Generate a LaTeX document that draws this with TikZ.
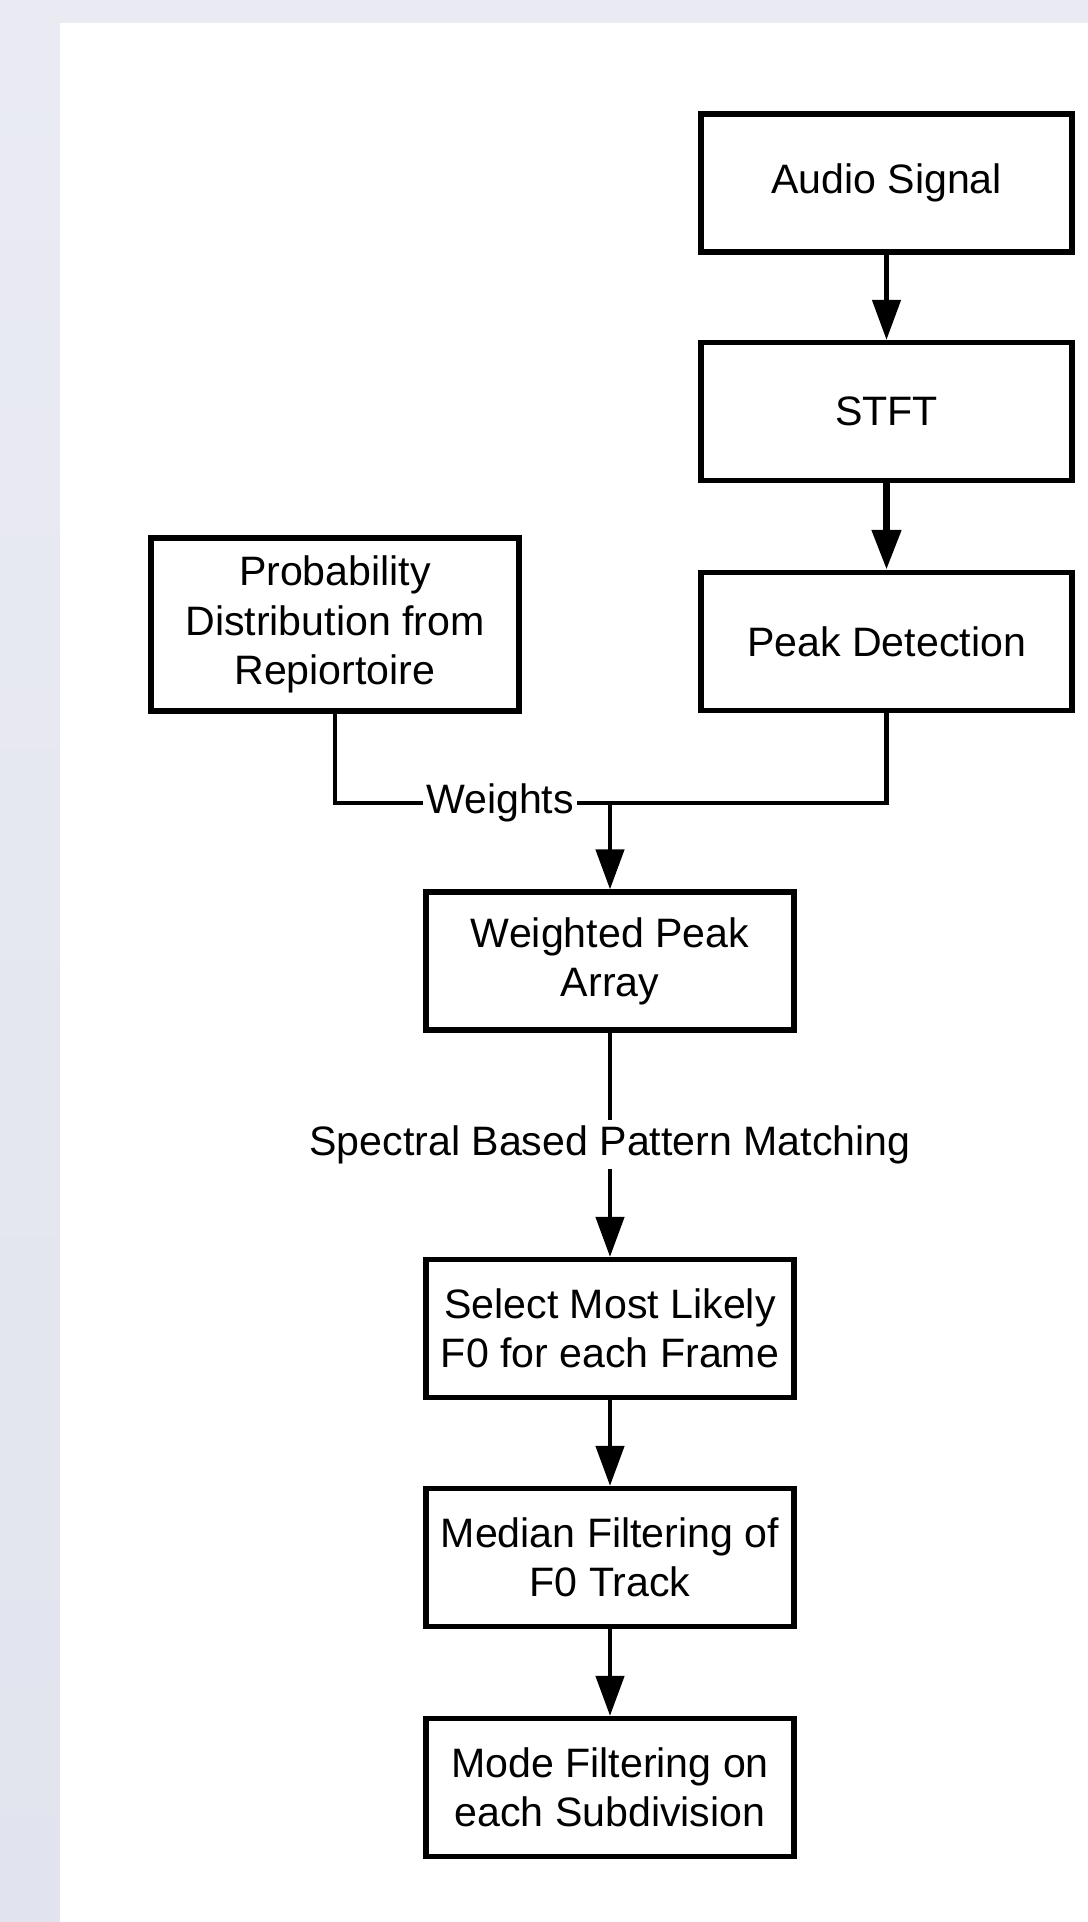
\documentclass[tikz,border=0pt]{standalone}
\usepackage{fontspec}
\setmainfont{Liberation Sans}
\usepackage{xcolor}
\usetikzlibrary{arrows.meta}

\definecolor{pagetop}{RGB}{234,235,242}
\definecolor{pagebottom}{RGB}{225,228,238}

\begin{document}
\begin{tikzpicture}[
    box/.style={draw=black, line width=1.5pt, fill=white, align=center, inner sep=2pt,
        minimum width=3.71cm, minimum height=1.38cm, font=\fontsize{11.7}{14}\selectfont},
    flow/.style={line width=1.3pt, -{Triangle[length=4mm, width=2.8mm]}},
    link/.style={line width=1.3pt},
    tag/.style={fill=white, inner sep=1pt, font=\fontsize{11.7}{14}\selectfont}
]
    % Page background (grey margin, white sheet)
    \shade[top color=pagetop, bottom color=pagebottom] (0,0) rectangle (10.88,-19.22);
    \fill[white] (0.6,-0.23) rectangle (10.88,-19.22);
    \useasboundingbox (0,0) rectangle (10.88,-19.22);

    % Signal chain on the right
    \node[box] (audio) at (8.865,-1.83) {Audio Signal};
    \node[box] (stft) at (8.865,-4.115) {STFT};
    \node[box] (peak) at (8.865,-6.415) {Peak Detection};

    % Prior from the repertoire
    \node[box, minimum width=3.68cm, minimum height=1.73cm] (prob) at (3.35,-6.245) {Probability\\Distribution from\\Repiortoire};

    % Main column
    \node[box, minimum width=3.68cm] (weighted) at (6.10,-9.61) {Weighted Peak\\Array};
    \node[box, minimum width=3.68cm] (select) at (6.10,-13.285) {Select Most Likely\\F0 for each Frame};
    \node[box, minimum width=3.68cm] (median) at (6.10,-15.575) {Median Filtering of\\F0 Track};
    \node[box, minimum width=3.68cm] (mode) at (6.10,-17.875) {Mode Filtering on\\each Subdivision};

    \coordinate (merge) at (6.10,-8.03);

    % Connectors
    \draw[flow] (audio) -- (stft);
    \draw[flow, line width=2.2pt] (stft) -- (peak);
    \draw[link] (prob.south) |- (merge) node[tag, pos=0.8] (weights) {Weights};
    \draw[link] (peak.south) |- (merge);
    \draw[flow] (merge) -- (weighted.north);
    \draw[flow] (weighted) -- node[tag, inner ysep=1.5pt] (spectral) {Spectral Based Pattern Matching} (select);
    \draw[flow] (select) -- (median);
    \draw[flow] (median) -- (mode);
\end{tikzpicture}
\end{document}
